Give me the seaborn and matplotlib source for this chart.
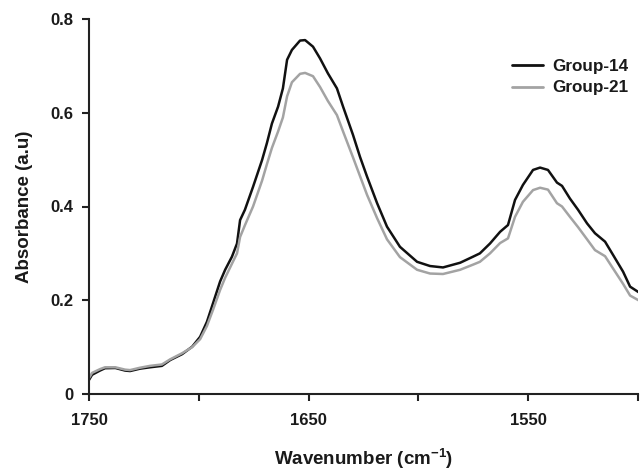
import numpy as np
import pandas as pd
import matplotlib
matplotlib.use("Agg")
import matplotlib.pyplot as plt
import seaborn as sns

wavenumber = [1750, 1748.6, 1745, 1742.7, 1738, 1733.6, 1731.3, 1726.8, 1722.2, 1716.8,
              1713, 1707.6, 1703, 1699.4, 1696.3, 1693.5, 1690.3, 1688, 1684.9, 1682.6,
              1681.2, 1679, 1675.3, 1671.2, 1669, 1666.7, 1663.9, 1661.7, 1659.8, 1657.6,
              1653.9, 1651.6, 1648, 1644.8, 1641.2, 1637.1, 1634.3, 1629.8, 1626.6, 1623.4,
              1618.8, 1614.3, 1608.4, 1600.6, 1594.7, 1588.8, 1581, 1575.1, 1572, 1567.4,
              1562.8, 1559.2, 1556, 1552.4, 1547.8, 1544.6, 1541, 1536.9, 1534.6, 1531,
              1527.3, 1523.2, 1519.6, 1515, 1511.4, 1506.8, 1503.6, 1499]
group14 = [0.030, 0.041, 0.050, 0.055, 0.0555, 0.050, 0.049, 0.054, 0.057, 0.060,
           0.0725, 0.085, 0.101, 0.122, 0.154, 0.194, 0.240, 0.265, 0.293, 0.321,
           0.371, 0.393, 0.442, 0.499, 0.535, 0.577, 0.613, 0.652, 0.713, 0.734,
           0.754, 0.755, 0.741, 0.716, 0.684, 0.652, 0.613, 0.553, 0.506, 0.464,
           0.407, 0.357, 0.314, 0.282, 0.273, 0.270, 0.280, 0.293, 0.300, 0.321,
           0.346, 0.3605, 0.414, 0.446, 0.478, 0.483, 0.478, 0.451, 0.444, 0.417,
           0.393, 0.364, 0.343, 0.325, 0.297, 0.261, 0.229, 0.215]
group21 = [0.034, 0.045, 0.053, 0.057, 0.057, 0.052, 0.051, 0.056, 0.060, 0.063,
           0.074, 0.087, 0.100, 0.117, 0.145, 0.180, 0.222, 0.248, 0.278, 0.300,
           0.335, 0.360, 0.400, 0.455, 0.490, 0.525, 0.560, 0.590, 0.635, 0.665,
           0.683, 0.685, 0.678, 0.655, 0.625, 0.595, 0.560, 0.505, 0.465, 0.425,
           0.375, 0.330, 0.292, 0.265, 0.257, 0.256, 0.265, 0.276, 0.282, 0.300,
           0.322, 0.332, 0.378, 0.410, 0.435, 0.440, 0.436, 0.407, 0.400, 0.378,
           0.356, 0.330, 0.307, 0.294, 0.268, 0.235, 0.210, 0.198]
series_names = ["Group-14", "Group-21"]
x_ticks = [1750, 1700, 1650, 1600, 1550, 1500]
x_tick_labels = ["1750", "", "1650", "", "1550", ""]
y_ticks = [0, 0.2, 0.4, 0.6, 0.8]
y_tick_labels = ["0", "0.2", "0.4", "0.6", "0.8"]

df = pd.DataFrame({
    "Wavenumber": wavenumber * 2,
    "Absorbance": group14 + group21,
    "Group": [series_names[0]] * len(wavenumber) + [series_names[1]] * len(wavenumber),
})

sns.set_theme(style="ticks")
plt.rcParams["font.family"] = ["Liberation Sans", "DejaVu Sans"]
plt.rcParams["font.weight"] = "bold"
plt.rcParams["mathtext.fontset"] = "custom"
plt.rcParams["mathtext.rm"] = "Liberation Sans:bold"
plt.rcParams["mathtext.bf"] = "Liberation Sans:bold"
plt.rcParams["mathtext.it"] = "Liberation Sans:bold"

fig = plt.figure(figsize=(6.4, 4.71), dpi=100)
ax = fig.add_axes([89 / 640, 1 - 394 / 471, (638 - 89) / 640, (394 - 19) / 471])

sns.lineplot(data=df, x="Wavenumber", y="Absorbance", hue="Group",
             palette={"Group-14": "#111111", "Group-21": "#a3a3a3"},
             linewidth=1.8, ax=ax, sort=False, estimator=None)

ax.set_xlim(1750, 1500)
ax.set_ylim(0, 0.8)
ax.set_xticks(x_ticks)
ax.set_xticklabels(x_tick_labels)
ax.set_yticks(y_ticks)
ax.set_yticklabels(y_tick_labels)
ax.tick_params(axis="both", direction="out", length=5, width=1.5, color="#222222",
               labelsize=12, labelcolor="#1a1a1a")
ax.tick_params(axis="x", pad=9)
ax.tick_params(axis="y", pad=6)
for lbl in ax.get_xticklabels() + ax.get_yticklabels():
    lbl.set_fontweight("bold")

sns.despine(ax=ax)
for s in ["left", "bottom"]:
    ax.spines[s].set_linewidth(1.5)
    ax.spines[s].set_color("#222222")

ax.set_xlabel(r"Wavenumber (cm$^{-1}$)", fontsize=13.5, fontweight="bold",
              color="#1a1a1a", labelpad=13)
ax.set_ylabel("Absorbance (a.u)", fontsize=13.5, fontweight="bold",
              color="#1a1a1a", labelpad=13)

leg = ax.legend(loc="upper left", bbox_to_anchor=(512 / 640, 1 - 59 / 471),
                bbox_transform=fig.transFigure, frameon=False, fontsize=12.3,
                handlelength=1.8, handletextpad=0.55, labelspacing=0.38,
                borderpad=0, borderaxespad=0)
for t in leg.get_texts():
    t.set_fontweight("bold")
    t.set_color("#1a1a1a")
for l in leg.get_lines():
    l.set_linewidth(2.0)

fig.savefig("out.png", dpi=100)
